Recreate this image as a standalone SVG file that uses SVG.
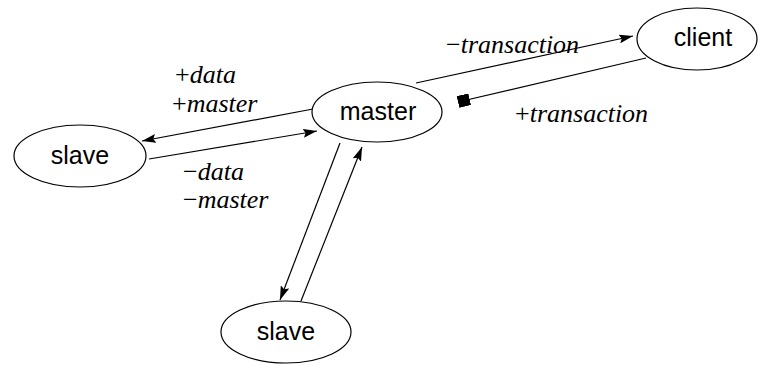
<svg xmlns="http://www.w3.org/2000/svg" width="758" height="365" viewBox="0 0 758 365">
  <style>
    .node ellipse { fill: #fff; stroke: #000; stroke-width: 1.2; }
    .node text { font-family: "Liberation Sans", Arial, sans-serif; font-size: 25px; text-anchor: middle; fill: #000; }
    .edges line { stroke: #000; stroke-width: 1.2; }
    .lbl { font-family: "Liberation Serif", "Times New Roman", serif; font-size: 26px; font-style: italic; fill: #000; }
    .sym { font-style: normal; }
  </style>
  <defs>
    <marker id="arrow" viewBox="0 0 14 9" refX="14" refY="4.5" markerWidth="14" markerHeight="9" markerUnits="userSpaceOnUse" orient="auto">
      <path d="M0,0 L14,4.5 L0,9 L2.5,4.5 Z" fill="#000"/>
    </marker>
    <marker id="box" viewBox="0 0 12 12" refX="12" refY="6" markerWidth="12" markerHeight="12" markerUnits="userSpaceOnUse" orient="auto">
      <rect x="0" y="0" width="12" height="12" fill="#000"/>
    </marker>
  </defs>

  <g class="edges">
    <line x1="416" y1="83" x2="633" y2="36" marker-end="url(#arrow)"/>
    <line x1="646" y1="58" x2="458" y2="102" marker-end="url(#box)"/>
    <line x1="313" y1="109" x2="142" y2="141" marker-end="url(#arrow)"/>
    <line x1="149" y1="159" x2="317" y2="131" marker-end="url(#arrow)"/>
    <line x1="340" y1="143" x2="280" y2="300" marker-end="url(#arrow)"/>
    <line x1="301" y1="301" x2="362" y2="147" marker-end="url(#arrow)"/>
  </g>

  <g id="master" class="node">
    <ellipse cx="377" cy="112" rx="65" ry="30"/>
    <text x="378" y="120">master</text>
  </g>
  <g id="client" class="node">
    <ellipse cx="697" cy="39" rx="60" ry="31"/>
    <text x="703" y="46">client</text>
  </g>
  <g id="slave1" class="node">
    <ellipse cx="80" cy="156" rx="66" ry="31"/>
    <text x="80" y="164">slave</text>
  </g>
  <g id="slave2" class="node">
    <ellipse cx="286" cy="332" rx="65" ry="31"/>
    <text x="286" y="340">slave</text>
  </g>

  <g id="labels">
    <text class="lbl" x="446" y="53"><tspan class="sym">−</tspan>transaction</text>
    <text class="lbl" x="515" y="122"><tspan class="sym">+</tspan>transaction</text>
    <text class="lbl" x="175" y="83"><tspan class="sym">+</tspan>data</text>
    <text class="lbl" x="172" y="112"><tspan class="sym">+</tspan>master</text>
    <text class="lbl" x="183" y="180"><tspan class="sym">−</tspan>data</text>
    <text class="lbl" x="183" y="208"><tspan class="sym">−</tspan>master</text>
  </g>
</svg>
